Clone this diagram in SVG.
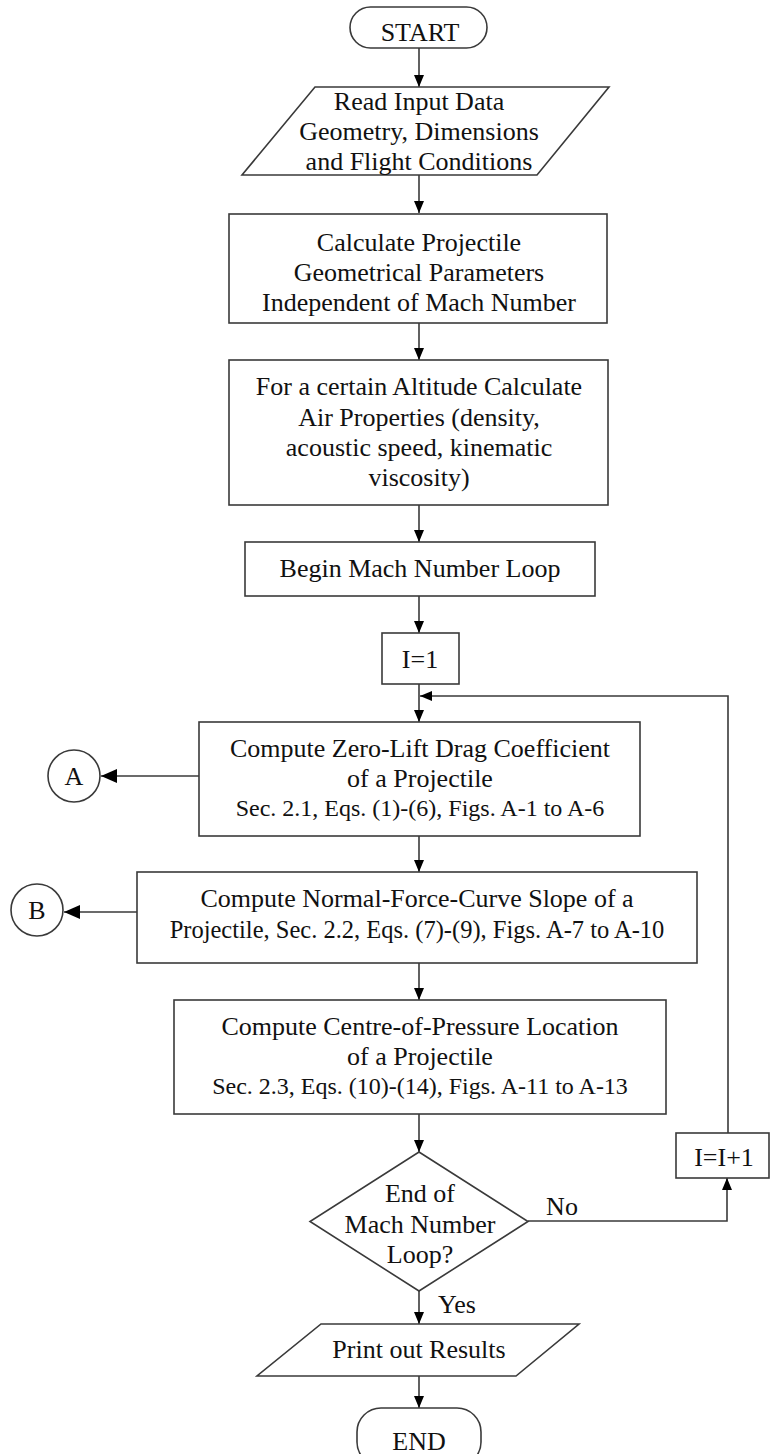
<svg xmlns="http://www.w3.org/2000/svg" width="770" height="1454" viewBox="0 0 770 1454">
<style>
.s{fill:#fff;stroke:#3a3a3a;stroke-width:1.6}
.t{font-family:"Liberation Serif","Times New Roman",serif;font-size:26px;fill:#111;text-anchor:middle}
.m{font-size:24px}
.c{fill:none;stroke:#3a3a3a;stroke-width:1.6}
</style>
<defs>
<marker id="ah" viewBox="0 0 12 10" refX="12" refY="5" markerWidth="12" markerHeight="10" markerUnits="userSpaceOnUse" orient="auto">
<path d="M0,0 L12,5 L0,10 Z" fill="#000"/>
</marker>
<marker id="ahb" viewBox="0 0 16 14" refX="16" refY="7" markerWidth="16" markerHeight="14" markerUnits="userSpaceOnUse" orient="auto">
<path d="M0,0 L16,7 L0,14 Z" fill="#000"/>
</marker>
</defs>
<rect width="770" height="1454" fill="#fff"/>
<g id="connectors">
<line class="c" x1="419" y1="48" x2="419" y2="87" marker-end="url(#ah)"/>
<line class="c" x1="419" y1="175" x2="419" y2="213" marker-end="url(#ah)"/>
<line class="c" x1="419" y1="323" x2="419" y2="360" marker-end="url(#ah)"/>
<line class="c" x1="419" y1="505" x2="419" y2="542" marker-end="url(#ah)"/>
<line class="c" x1="419" y1="596" x2="419" y2="633" marker-end="url(#ah)"/>
<line class="c" x1="419" y1="684" x2="419" y2="722" marker-end="url(#ah)"/>
<polyline class="c" points="728,1133 728,696 420,696" marker-end="url(#ah)"/>
<line class="c" x1="199" y1="776" x2="101" y2="776" marker-end="url(#ahb)"/>
<line class="c" x1="419" y1="836" x2="419" y2="872" marker-end="url(#ah)"/>
<line class="c" x1="137" y1="912" x2="64" y2="912" marker-end="url(#ahb)"/>
<line class="c" x1="419" y1="963" x2="419" y2="1000" marker-end="url(#ah)"/>
<line class="c" x1="419" y1="1114" x2="419" y2="1152" marker-end="url(#ah)"/>
<polyline class="c" points="528,1221 727,1221 727,1178" marker-end="url(#ah)"/>
<line class="c" x1="419" y1="1291" x2="419" y2="1324" marker-end="url(#ah)"/>
<line class="c" x1="419" y1="1376" x2="419" y2="1408" marker-end="url(#ah)"/>
<text class="t" x="562" y="1215">No</text>
<text class="t" x="457" y="1313">Yes</text>
</g>
<g id="start">
<rect class="s" x="350" y="7" width="137" height="41" rx="20.5"/>
<text class="t" x="420" y="41">START</text>
</g>
<g id="read-input">
<polygon class="s" points="315,87 609,87 537,175 242,175"/>
<text class="t" x="419" y="110">Read Input Data</text>
<text class="t" x="419" y="140">Geometry, Dimensions</text>
<text class="t" x="419" y="170">and Flight Conditions</text>
</g>
<g id="calc-geom">
<rect class="s" x="229" y="214" width="378" height="109"/>
<text class="t" x="419" y="251">Calculate Projectile</text>
<text class="t" x="419" y="281">Geometrical Parameters</text>
<text class="t" x="419" y="311">Independent of Mach Number</text>
</g>
<g id="air-props">
<rect class="s" x="229" y="360" width="379" height="145"/>
<text class="t" x="419" y="395">For a certain Altitude Calculate</text>
<text class="t" x="419" y="426">Air Properties (density,</text>
<text class="t" x="419" y="456">acoustic speed, kinematic</text>
<text class="t" x="419" y="486">viscosity)</text>
</g>
<g id="begin-loop">
<rect class="s" x="245" y="542" width="350" height="54"/>
<text class="t" x="420" y="577">Begin Mach Number Loop</text>
</g>
<g id="i-init">
<rect class="s" x="382" y="633" width="77" height="51"/>
<text class="t" x="420" y="668">I=1</text>
</g>
<g id="zero-lift">
<rect class="s" x="199" y="722" width="441" height="114"/>
<text class="t" x="420" y="757">Compute Zero-Lift Drag Coefficient</text>
<text class="t" x="420" y="787">of a Projectile</text>
<text class="t m" x="420" y="816">Sec. 2.1, Eqs. (1)-(6), Figs. A-1 to A-6</text>
</g>
<g id="connector-a">
<circle class="s" cx="74" cy="776" r="26"/>
<text class="t" x="74" y="785">A</text>
</g>
<g id="normal-force">
<rect class="s" x="137" y="872" width="560" height="91"/>
<text class="t" x="417" y="907">Compute Normal-Force-Curve Slope of a</text>
<text class="t" x="417" y="938" style="font-size:24.5px">Projectile, Sec. 2.2, Eqs. (7)-(9), Figs. A-7 to A-10</text>
</g>
<g id="connector-b">
<circle class="s" cx="37" cy="910" r="26"/>
<text class="t" x="37" y="919">B</text>
</g>
<g id="centre-pressure">
<rect class="s" x="174" y="1000" width="492" height="114"/>
<text class="t" x="420" y="1035">Compute Centre-of-Pressure Location</text>
<text class="t" x="420" y="1065">of a Projectile</text>
<text class="t m" x="420" y="1094">Sec. 2.3, Eqs. (10)-(14), Figs. A-11 to A-13</text>
</g>
<g id="end-loop">
<polygon class="s" points="419,1152 528,1221.5 419,1291 310,1221.5"/>
<text class="t" x="420" y="1202">End of</text>
<text class="t" x="420" y="1233">Mach Number</text>
<text class="t" x="420" y="1263">Loop?</text>
</g>
<g id="i-incr">
<rect class="s" x="676" y="1133" width="93" height="45"/>
<text class="t" x="724" y="1166">I=I+1</text>
</g>
<g id="print">
<polygon class="s" points="321,1324 579,1324 516,1376 257,1376"/>
<text class="t" x="419" y="1358">Print out Results</text>
</g>
<g id="end">
<rect class="s" x="357" y="1408" width="124" height="58" rx="24"/>
<text class="t" x="419" y="1450">END</text>
</g>
</svg>
